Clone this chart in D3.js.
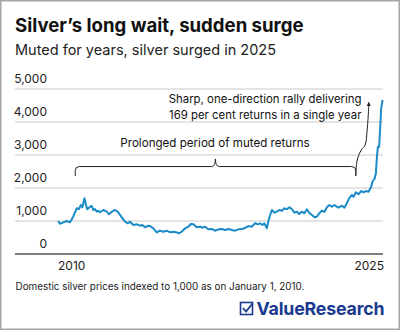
<!DOCTYPE html>
<html>
<head>
<meta charset="utf-8">
<script src="https://cdn.jsdelivr.net/npm/d3@7"></script>
<style>
  html, body { margin: 0; padding: 0; background: #fff; }
  svg { display: block; font-family: Inter, "Noto Sans", sans-serif; }
</style>
</head>
<body>
<div id="chart"></div>
<script>
// ── Data ──
const years = [
  2010.00, 2010.10, 2010.26, 2010.43, 2010.59, 2010.75, 2010.92, 2011.03, 2011.13, 2011.20,
  2011.30, 2011.38, 2011.44, 2011.58, 2011.66, 2011.74, 2011.82, 2011.91, 2011.99, 2012.07,
  2012.23, 2012.40, 2012.51, 2012.65, 2012.81, 2012.94, 2013.14, 2013.30, 2013.43, 2013.55,
  2013.71, 2013.88, 2014.04, 2014.15, 2014.29, 2014.45, 2014.53, 2014.69, 2014.86, 2015.02,
  2015.19, 2015.35, 2015.52, 2015.68, 2015.81, 2015.98, 2016.14, 2016.26, 2016.42, 2016.54,
  2016.67, 2016.83, 2017.00, 2017.13, 2017.24, 2017.40, 2017.57, 2017.73, 2017.90, 2018.06,
  2018.23, 2018.39, 2018.56, 2018.72, 2018.88, 2019.05, 2019.21, 2019.37, 2019.54, 2019.70,
  2019.84, 2019.95, 2020.06, 2020.16, 2020.28, 2020.39, 2020.53, 2020.66, 2020.77, 2020.90,
  2021.02, 2021.15, 2021.27, 2021.39, 2021.51, 2021.64, 2021.76, 2021.87, 2022.00, 2022.13,
  2022.25, 2022.36, 2022.50, 2022.63, 2022.74, 2022.86, 2022.99, 2023.12, 2023.24, 2023.35,
  2023.48, 2023.61, 2023.73, 2023.81, 2023.98, 2024.10, 2024.22, 2024.33, 2024.47, 2024.55,
  2024.67, 2024.79, 2024.93, 2025.04, 2025.16, 2025.29, 2025.42, 2025.48, 2025.58, 2025.65,
  2025.70, 2025.75, 2025.81, 2025.86, 2025.91, 2025.98
];
const index = [
  1000, 918, 960, 1000, 960, 1130, 1385, 1364, 1485, 1415,
  1688, 1485, 1354, 1433, 1455, 1333, 1364, 1282, 1312, 1264,
  1333, 1282, 1203, 1282, 1333, 1282, 1112, 979, 930, 979,
  879, 900, 858, 879, 809, 858, 848, 778, 657, 706,
  676, 706, 657, 676, 657, 627, 706, 778, 827, 909,
  900, 809, 827, 797, 827, 748, 758, 706, 748, 758,
  727, 758, 727, 706, 748, 758, 790, 848, 827, 930,
  900, 930, 879, 930, 778, 1082, 1333, 1252, 1282, 1333,
  1312, 1385, 1354, 1415, 1364, 1252, 1282, 1212, 1282, 1233,
  1354, 1252, 1182, 1112, 1130, 1233, 1312, 1282, 1415, 1485,
  1433, 1485, 1433, 1403, 1464, 1403, 1536, 1688, 1788, 1736,
  1869, 1809, 1909, 1869, 1909, 1888, 2039, 2191, 2273, 2445,
  2948, 3251, 3251, 3809, 4415, 4667
];
const yTicks = [0, 1000, 2000, 3000, 4000, 5000];
const xLabels = [2010, 2025];

// Annotation anchors, in chart units [year, index]
const braceFrom = 2010.85, braceTo = 2024.66, braceMid = 2017.75;
const braceLevel = 2650, braceFoot = 2364, braceCusp = 2880;
const arrowPts = [
  [2024.66, 2364], [2024.73, 2848], [2024.93, 3152],
  [2025.12, 3303], [2025.22, 3758], [2025.30, 4485]
];
const arrowTip = [2025.30, 4620];

const W = 400, H = 330;
const blue = '#1b8bc8';

const svg = d3.select('#chart').append('svg')
  .attr('width', W).attr('height', H);

svg.append('rect').attr('x', 0.75).attr('y', 0.75)
  .attr('width', W - 1.5).attr('height', H - 1.5)
  .attr('fill', '#fff').attr('stroke', '#a6a6a6').attr('stroke-width', 1.5);

const x = d3.scaleLinear().domain([2010, 2026]).range([58, 383]);
const y = d3.scaleLinear().domain([0, 5000]).range([254, 89]);

// ── Titles ──
svg.append('text').attr('x', 15).attr('y', 31.5)
  .attr('font-size', 18.6).attr('font-weight', 700).attr('fill', '#111')
  .text('Silver\u2019s long wait, sudden surge');
svg.append('text').attr('x', 15).attr('y', 55)
  .attr('font-size', 14.5).attr('fill', '#222')
  .text('Muted for years, silver surged in 2025');

// ── Grid + y labels ──
const grid = svg.append('g');
grid.selectAll('line').data(yTicks).join('line')
  .attr('x1', 15).attr('x2', 383)
  .attr('y1', d => y(d)).attr('y2', d => y(d))
  .attr('stroke', d => d === 0 ? '#555' : '#c9c9c9')
  .attr('stroke-width', d => d === 0 ? 1.5 : 1.2);
grid.selectAll('text').data(yTicks).join('text')
  .attr('x', 47).attr('y', d => y(d) - 6)
  .attr('text-anchor', 'end').attr('font-size', 12).attr('fill', '#222')
  .text(d => d3.format(',')(d));

// ── x labels (first start-anchored, last end-anchored) ──
svg.selectAll('.xl').data(xLabels).join('text')
  .attr('class', 'xl')
  .attr('x', (d, i) => i === 0 ? x(d) : x(2026) + 1)
  .attr('y', 269.5)
  .attr('text-anchor', (d, i) => i === 0 ? 'start' : 'end')
  .attr('font-size', 12).attr('fill', '#222')
  .text(d => d);

// ── Brace ──
const bl = x(braceFrom), br = x(braceTo), bm = x(braceMid);
const by = y(braceLevel), bf = y(braceFoot), bc = y(braceCusp);
const r = 4;
const bracePath = [
  'M', bl, bf, 'L', bl, by + r, 'Q', bl, by, bl + r, by,
  'L', bm - r, by, 'Q', bm, by, bm, bc,
  'Q', bm, by, bm + r, by,
  'L', br - r, by, 'Q', br, by, br, by + r, 'L', br, bf
].join(' ');
svg.append('path').attr('d', bracePath)
  .attr('fill', 'none').attr('stroke', '#222').attr('stroke-width', 1);

// ── Arrow to the rally ──
svg.append('path')
  .attr('d', d3.line().x(d => x(d[0])).y(d => y(d[1])).curve(d3.curveCatmullRom)(arrowPts))
  .attr('fill', 'none').attr('stroke', '#222').attr('stroke-width', 1);
const tx = x(arrowTip[0]), ty = y(arrowTip[1]);
svg.append('path')
  .attr('d', `M${tx},${ty} L${tx - 2},${ty + 4.5} L${tx + 2},${ty + 4.5} Z`)
  .attr('fill', '#222');

// ── Annotation text ──
svg.append('text').attr('x', 361.5).attr('y', 103)
  .attr('text-anchor', 'end').attr('font-size', 11.4).attr('fill', '#111')
  .text('Sharp, one-direction rally delivering');
svg.append('text').attr('x', 361.5).attr('y', 119)
  .attr('text-anchor', 'end').attr('font-size', 11.4).attr('fill', '#111')
  .text('169 per cent returns in a single year');
svg.append('text').attr('x', 215).attr('y', 147)
  .attr('text-anchor', 'middle').attr('font-size', 11.6).attr('fill', '#111')
  .text('Prolonged period of muted returns');

// ── Series ──
const series = years.map((d, i) => [d, index[i]]);
svg.append('path')
  .attr('d', d3.line().x(d => x(d[0])).y(d => y(d[1]))(series))
  .attr('fill', 'none').attr('stroke', blue)
  .attr('stroke-width', 2).attr('stroke-linejoin', 'round');

// ── Footnote + logo ──
svg.append('text').attr('x', 15.5).attr('y', 289.5)
  .attr('font-size', 9.9).attr('fill', '#222')
  .text('Domestic silver prices indexed to 1,000 as on January 1, 2010.');

const navy = '#1a3a8f';
const logo = svg.append('g');
logo.append('rect').attr('x', 240.5).attr('y', 302.5).attr('width', 12).attr('height', 12)
  .attr('fill', 'none').attr('stroke', navy).attr('stroke-width', 1.6);
logo.append('path').attr('d', 'M243,308 L246,311.5 L252.5,303.5')
  .attr('fill', 'none').attr('stroke', navy).attr('stroke-width', 1.8);
logo.append('text').attr('x', 256.5).attr('y', 314.5)
  .attr('font-size', 17.8).attr('font-weight', 700).attr('fill', navy)
  .attr('letter-spacing', -0.2)
  .text('ValueResearch');
</script>
</body>
</html>
